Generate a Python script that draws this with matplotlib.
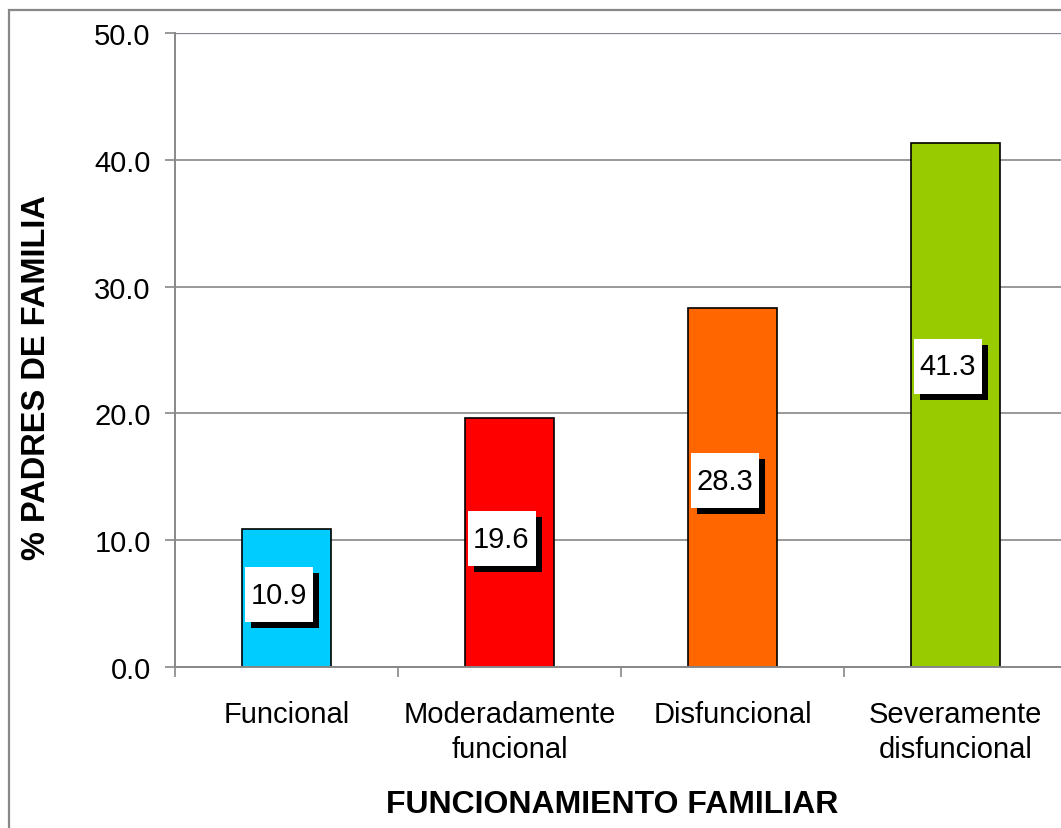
import matplotlib.pyplot as plt
from matplotlib.patches import Rectangle
from matplotlib.transforms import ScaledTranslation

# -------------- Data --------------
categories = ['Funcional', 'Moderadamente\nfuncional', 'Disfuncional', 'Severamente\ndisfuncional']
values = [10.9, 19.6, 28.3, 41.3]
colors = ['#00CCFF', '#FF0000', '#FF6600', '#99CC00']
y_ticks = [0, 10, 20, 30, 40, 50]

plt.rcParams['font.family'] = ['Liberation Sans', 'DejaVu Sans']

fig = plt.figure(figsize=(10.61, 8.29), dpi=100)
# outer chart border (excel style, cut at right/bottom)
fig.patches.append(Rectangle((9 / 1061, -0.1), 1.2, 1 - 11 / 829 + 0.1, transform=fig.transFigure,
                             fill=False, edgecolor='#888888', linewidth=1.6))

ax = fig.add_axes([175 / 1061, 1 - 668 / 829, 892 / 1061, 634 / 829])

centers = [i + 0.5 for i in range(len(values))]
ax.bar(centers, values, width=0.4, color=colors, edgecolor='black', linewidth=1.2, zorder=3)

ax.set_xlim(0, 4)
ax.set_ylim(0, 50)
ax.set_yticks(y_ticks)
ax.set_yticklabels([f'{t:.1f}' for t in y_ticks], fontsize=21)
ax.yaxis.grid(True, color='#888888', linewidth=1.2, zorder=0)
ax.axhline(50, color='#6F6FB0', linewidth=1.6, zorder=1)

# category boundaries as major ticks, names as minor ticks
ax.set_xticks(range(5))
ax.set_xticklabels([])
ax.set_xticks(centers, minor=True)
ax.set_xticklabels(categories, minor=True, fontsize=21, linespacing=1.3)
ax.tick_params(axis='x', which='minor', length=0, pad=24)
ax.tick_params(axis='x', which='major', length=7, width=1.2, color='#888888')
ax.tick_params(axis='y', length=7.5, width=1.2, color='#888888', pad=10)

for s in ['top', 'right']:
    ax.spines[s].set_visible(False)
for s in ['left', 'bottom']:
    ax.spines[s].set_color('#888888')
    ax.spines[s].set_linewidth(1.4)
    ax.spines[s].set_zorder(4)

# value labels: white box with black drop shadow (box 68x55 px, shadow offset 6 px)
label_y = [5.7, 10.1, 14.7, 23.7]
for x, v, ly in zip(centers, values, label_y):
    tr = fig.dpi_scale_trans + ScaledTranslation(x, ly, ax.transData)
    ax.add_patch(Rectangle((-0.42 + 0.06, -0.275 - 0.06), 0.68, 0.55, transform=tr,
                           facecolor='black', edgecolor='none', zorder=5))
    ax.add_patch(Rectangle((-0.42, -0.275), 0.68, 0.55, transform=tr,
                           facecolor='white', edgecolor='none', zorder=6))
    ax.annotate(f'{v:.1f}', (x, ly), xytext=(-5.8, 0), textcoords='offset points',
                ha='center', va='center', fontsize=21, color='black', zorder=7)

fig.text(612 / 1061, 1 - 805 / 829, 'FUNCIONAMIENTO FAMILIAR', ha='center', va='center',
         fontsize=23, fontweight='bold')
fig.text(37 / 1061, 1 - 378 / 829, '% PADRES DE FAMILIA', ha='center', va='center',
         fontsize=23.5, fontweight='bold', rotation=90)

plt.savefig('out.png', dpi=100)
